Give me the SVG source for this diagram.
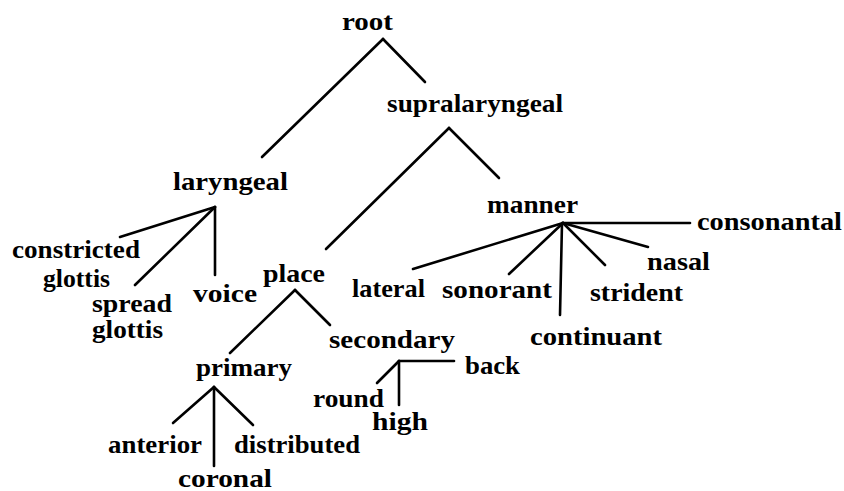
<svg xmlns="http://www.w3.org/2000/svg" width="844" height="491" viewBox="0 0 844 491">
<style>
text { font-family: "Liberation Serif", "DejaVu Serif", serif; font-size: 25px; font-weight: bold; fill: #000; }
.edge { stroke: #000; stroke-width: 2.6; fill: none; stroke-linecap: round; }
</style>
<rect width="844" height="491" fill="#fff"/>
<g id="connectors">
<line class="edge" x1="383" y1="39" x2="262" y2="157"/>
<line class="edge" x1="383" y1="39" x2="425" y2="82"/>
<line class="edge" x1="449" y1="128" x2="326" y2="249"/>
<line class="edge" x1="449" y1="128" x2="499" y2="178"/>
<line class="edge" x1="215" y1="207" x2="120" y2="237"/>
<line class="edge" x1="215" y1="207" x2="135" y2="285"/>
<line class="edge" x1="215" y1="207" x2="215" y2="275"/>
<line class="edge" x1="563" y1="223" x2="690" y2="223"/>
<line class="edge" x1="563" y1="223" x2="648" y2="247"/>
<line class="edge" x1="563" y1="223" x2="605" y2="265"/>
<line class="edge" x1="562" y1="223" x2="560" y2="315"/>
<line class="edge" x1="563" y1="223" x2="509" y2="274"/>
<line class="edge" x1="563" y1="223" x2="413" y2="269"/>
<line class="edge" x1="295" y1="290" x2="230" y2="353"/>
<line class="edge" x1="295" y1="290" x2="330" y2="325"/>
<line class="edge" x1="214" y1="387" x2="173" y2="423"/>
<line class="edge" x1="214" y1="387" x2="253" y2="425"/>
<line class="edge" x1="214" y1="387" x2="214" y2="466"/>
<line class="edge" x1="399" y1="361" x2="454" y2="361"/>
<line class="edge" x1="399" y1="361" x2="377" y2="383"/>
<line class="edge" x1="399" y1="361" x2="399" y2="405"/>
</g>
<g id="root"><text x="342" y="30" textLength="51" lengthAdjust="spacingAndGlyphs">root</text></g>
<g id="supralaryngeal"><text x="387" y="112" textLength="176" lengthAdjust="spacingAndGlyphs">supralaryngeal</text></g>
<g id="laryngeal"><text x="173" y="190" textLength="115" lengthAdjust="spacingAndGlyphs">laryngeal</text></g>
<g id="manner"><text x="487" y="213" textLength="91" lengthAdjust="spacingAndGlyphs">manner</text></g>
<g id="consonantal"><text x="697" y="230" textLength="145" lengthAdjust="spacingAndGlyphs">consonantal</text></g>
<g id="constricted-glottis">
<text x="12" y="258" textLength="128" lengthAdjust="spacingAndGlyphs">constricted</text>
<text x="43" y="287" textLength="67" lengthAdjust="spacingAndGlyphs">glottis</text>
</g>
<g id="spread-glottis">
<text x="92" y="312" textLength="80" lengthAdjust="spacingAndGlyphs">spread</text>
<text x="92" y="338" textLength="71" lengthAdjust="spacingAndGlyphs">glottis</text>
</g>
<g id="voice"><text x="193" y="302" textLength="64" lengthAdjust="spacingAndGlyphs">voice</text></g>
<g id="place"><text x="263" y="282" textLength="62" lengthAdjust="spacingAndGlyphs">place</text></g>
<g id="lateral"><text x="352" y="297" textLength="73" lengthAdjust="spacingAndGlyphs">lateral</text></g>
<g id="sonorant"><text x="442" y="298" textLength="110" lengthAdjust="spacingAndGlyphs">sonorant</text></g>
<g id="nasal"><text x="647" y="270" textLength="63" lengthAdjust="spacingAndGlyphs">nasal</text></g>
<g id="strident"><text x="590" y="301" textLength="93" lengthAdjust="spacingAndGlyphs">strident</text></g>
<g id="continuant"><text x="530" y="345" textLength="132" lengthAdjust="spacingAndGlyphs">continuant</text></g>
<g id="secondary"><text x="329" y="348" textLength="126" lengthAdjust="spacingAndGlyphs">secondary</text></g>
<g id="back"><text x="465" y="374" textLength="55" lengthAdjust="spacingAndGlyphs">back</text></g>
<g id="round"><text x="313" y="407" textLength="71" lengthAdjust="spacingAndGlyphs">round</text></g>
<g id="high"><text x="372" y="430" textLength="56" lengthAdjust="spacingAndGlyphs">high</text></g>
<g id="primary"><text x="196" y="376" textLength="96" lengthAdjust="spacingAndGlyphs">primary</text></g>
<g id="anterior"><text x="108" y="453" textLength="94" lengthAdjust="spacingAndGlyphs">anterior</text></g>
<g id="distributed"><text x="234" y="453" textLength="126" lengthAdjust="spacingAndGlyphs">distributed</text></g>
<g id="coronal"><text x="178" y="487" textLength="94" lengthAdjust="spacingAndGlyphs">coronal</text></g>
</svg>
